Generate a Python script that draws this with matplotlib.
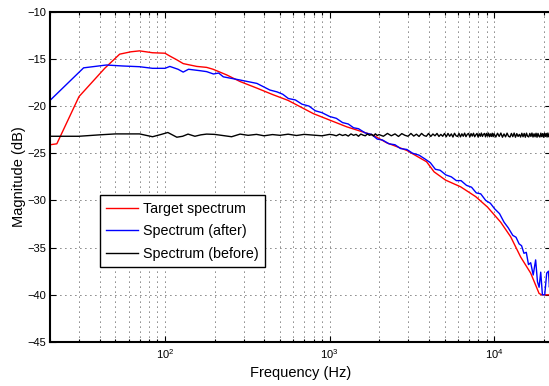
import numpy as np
import matplotlib
matplotlib.use('Agg')
import matplotlib.pyplot as plt

plt.rcParams['font.family'] = ['Liberation Sans', 'DejaVu Sans']

# target spectrum (red)
target_f = [20, 22, 30, 43, 53, 62, 70, 84, 100, 107, 118, 129, 156, 179, 196, 237, 286,
            362, 454, 560, 797, 1273, 1850, 2230, 2950, 3585, 3890, 4320, 5080, 6270, 7740,
            9120, 10970, 12630, 14520, 16700, 18790, 19500, 22050]
target_db = [-24.1, -24.0, -19.0, -16.0, -14.5, -14.25, -14.15, -14.35, -14.4, -14.7, -15.1,
             -15.5, -15.8, -15.9, -16.1, -16.7, -17.4, -18.1, -18.8, -19.4, -20.8, -22.2, -23.1,
             -23.9, -24.7, -25.55, -25.9, -26.97, -27.85, -28.56, -29.6, -30.7, -32.3, -33.86,
             -36.0, -37.7, -39.86, -40.0, -40.0]

# spectrum after (blue)
after_f = [20, 32, 44, 55, 70, 84, 100, 107, 120, 129, 139, 163, 179, 197, 212, 226, 286, 362,
           434, 480, 520, 562, 620, 680, 750, 820, 900, 1000, 1100, 1200, 1300, 1400, 1500,
           1650, 1800, 1950, 2100, 2300, 2500, 2700, 2950, 3200, 3500, 3800, 4100, 4400, 4700,
           5100, 5500, 5900, 6300, 6800, 7300, 7800, 8300, 8900, 9500, 10100, 10800, 11500,
           12200, 13000, 13600, 14200, 14700, 15200, 15700, 16200, 16700, 17300, 17900, 18360,
           18790, 19220, 19680, 20330, 20900, 21420, 21720, 22050]
after_db = [-19.4, -15.95, -15.65, -15.75, -15.83, -16.0, -16.0, -15.8, -16.1, -16.4, -16.1,
            -16.25, -16.35, -16.6, -16.5, -16.9, -17.24, -17.6, -18.3, -18.5, -18.75, -19.2,
            -19.35, -19.8, -20.0, -20.5, -20.7, -21.1, -21.3, -21.75, -21.9, -22.3, -22.4, -22.85,
            -23.0, -23.5, -23.6, -24.0, -24.1, -24.5, -24.6, -25.0, -25.2, -25.6, -26.0, -26.7,
            -26.8, -27.3, -27.5, -27.9, -27.9, -28.4, -28.6, -29.2, -29.3, -30.0, -30.3, -30.9,
            -31.4, -32.3, -32.9, -33.7, -33.9, -34.6, -34.8, -35.6, -35.5, -36.8, -36.6, -37.9,
            -36.3, -38.6, -39.2, -37.6, -40.0, -40.0, -37.7, -37.5, -39.2, -38.0]

# spectrum before (black)
before_f = [20, 30, 40, 50, 70, 84, 95, 104, 112, 118, 128, 138, 152, 165, 179, 200, 221, 254,
            286, 320, 360, 400, 450, 500, 560, 630, 700, 800, 900, 1000,
            1050, 1100, 1150, 1200, 1250, 1300, 1350, 1400, 1450, 1500, 1550, 1600, 1650, 1700,
            1750, 1800, 1850, 1900, 1950, 2000,
            2125, 2250, 2375, 2500, 2625, 2750, 2875, 3000, 3125, 3250, 3375, 3500, 3625, 3750,
            3875, 4000, 4125, 4250, 4375, 4500, 4625, 4750, 4875, 5000,
            5125, 5250, 5375, 5500, 5625, 5750, 5875, 6000, 6125, 6250, 6375, 6500, 6625, 6750,
            6875, 7000, 7125, 7250, 7375, 7500, 7625, 7750, 7875, 8000, 8125, 8250, 8375, 8500,
            8625, 8750, 8875, 9000, 9125, 9250, 9375, 9500, 9625, 9750, 9875, 10000,
            10250, 10500, 10750, 11000, 11250, 11500, 11750, 12000, 12250, 12500, 12750, 13000,
            13250, 13500, 13750, 14000, 14250, 14500, 14750, 15000, 15250, 15500, 15750, 16000,
            16250, 16500, 16750, 17000, 17250, 17500, 17750, 18000, 18250, 18500, 18750, 19000,
            19250, 19500, 19750, 20000, 20250, 20500, 20750, 21000, 21250, 21500, 21750, 22000]
before_db = [-23.2, -23.2, -23.05, -22.95, -22.95, -23.25, -23.0, -22.8, -23.1, -23.3, -23.2,
             -22.97, -23.2, -23.05, -22.97, -23.0, -23.1, -23.25, -22.97, -23.1, -23.0, -23.15,
             -23.02, -23.1, -22.98, -23.12, -23.0, -23.08, -23.15, -23.0,
             -23.05, -23.15, -22.98, -23.12, -23.02, -23.18, -22.95, -23.1, -23.0, -23.2, -22.97,
             -23.08, -23.15, -22.96, -23.1, -23.0, -23.17, -22.94, -23.12, -23.02,
             -23.2, -22.9, -23.15, -22.95, -23.22, -22.92, -23.1, -23.2, -22.9, -23.18, -22.98,
             -23.22, -22.9, -23.12, -23.2, -22.9, -23.22, -22.96, -23.15, -22.9, -23.22, -23.0,
             -23.2, -22.9,
             -23.25, -22.9, -23.2, -22.95, -23.28, -22.88, -23.15, -23.22, -22.9, -23.26,
             -22.94, -23.2, -22.87, -23.24, -23.0, -22.9, -23.27, -22.92, -23.18, -22.88,
             -23.25, -23.05, -22.9, -23.28, -22.93, -23.2, -22.86, -23.22, -23.0, -22.9,
             -23.26, -22.9, -23.18, -22.87, -23.25, -22.95, -23.22, -22.88, -23.24, -22.92,
             -23.28, -22.88, -23.22, -22.86, -23.3, -22.95, -23.26, -22.87, -23.2, -23.28,
             -22.9, -23.24, -22.86, -23.3, -22.92, -23.22, -23.0, -23.28, -22.88, -23.25,
             -22.9, -23.3, -22.87, -23.2, -23.27, -22.9, -23.22, -22.86, -23.28, -22.94,
             -23.25, -22.88, -23.3, -22.9, -23.2, -23.28, -22.87, -23.24, -22.92, -23.3,
             -22.88, -23.22, -22.9, -23.28, -22.86, -23.25, -22.95, -23.2]

fig = plt.figure(figsize=(5.49, 3.86), dpi=100)
ax = fig.add_axes([0.0911, 0.114, 0.9117, 0.8557])

ax.semilogx(target_f, target_db, color='red', lw=1, label='Target spectrum')
ax.semilogx(after_f, after_db, color='blue', lw=1, label='Spectrum (after)')
ax.semilogx(before_f, before_db, color='black', lw=1, label='Spectrum (before)')

ax.set_xlim(20, 22050)
ax.set_ylim(-45, -10)
ax.set_yticks(np.arange(-45, -9, 5))

dots = (0, (1, 5))
ax.grid(True, which='major', axis='both', color='black', lw=0.6, linestyle=dots)
ax.grid(True, which='minor', axis='x', color='black', lw=0.6, linestyle=dots)

ax.tick_params(which='both', direction='in', top=True, right=True, labelsize=8, width=0.8)
ax.tick_params(which='major', length=4, pad=4)
ax.tick_params(axis='y', which='major', pad=2.5)
ax.tick_params(which='minor', length=2.5)
for s in ax.spines.values():
    s.set_linewidth(1.5)

ax.set_xlabel('Frequency (Hz)', fontsize=10.5, labelpad=3)
ax.set_ylabel('Magnitude (dB)', fontsize=10.5, labelpad=1)

leg = ax.legend(loc='lower left', bbox_to_anchor=(0.0999, 0.226), borderaxespad=0,
                fontsize=10.3, fancybox=False, framealpha=1, edgecolor='black',
                handlelength=2.2, handletextpad=0.35, labelspacing=0.6, borderpad=0.45)
leg.get_frame().set_linewidth(1.0)

fig.savefig('out.png', dpi=100)
